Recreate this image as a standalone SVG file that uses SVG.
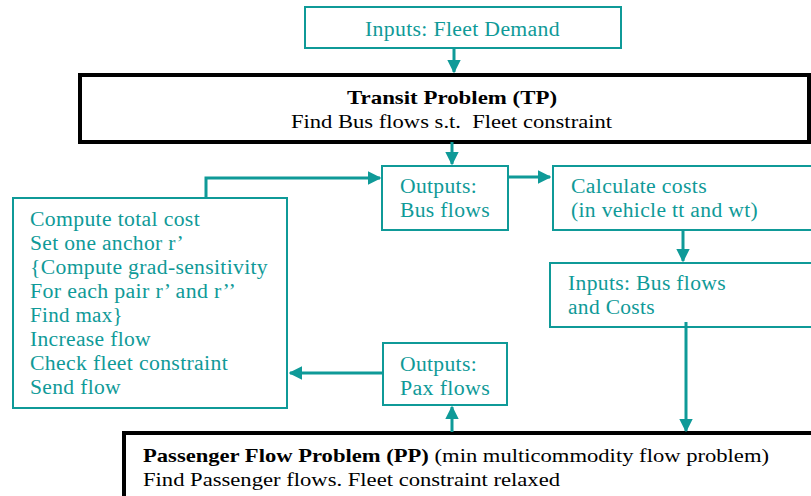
<svg xmlns="http://www.w3.org/2000/svg" width="811" height="496" viewBox="0 0 811 496">
<style>
.box{fill:#fff;stroke:#0f9a98;stroke-width:2}
.big{fill:#fff;stroke:#000;stroke-width:4}
.t{font-family:"Liberation Serif","Times New Roman",serif;font-size:20px;fill:#0f9a98;letter-spacing:0.3px}
.k{font-family:"Liberation Serif","Times New Roman",serif;font-size:19px;fill:#000}
.b{font-weight:bold}
.c{fill:none;stroke:#0f9a98;stroke-width:3}
</style>
<defs>
<marker id="ah" viewBox="0 0 10 10" refX="9" refY="5" markerWidth="4.5" markerHeight="4.5" orient="auto" markerUnits="strokeWidth">
<path d="M0,0 L10,5 L0,10 Z" fill="#0f9a98"/>
</marker>
</defs>
<g id="inputs-fleet">
<rect class="box" x="305" y="7" width="316" height="41"/>
<text class="t" x="365" y="36" textLength="195" lengthAdjust="spacingAndGlyphs">Inputs: Fleet Demand</text>
</g>
<g id="tp">
<rect class="big" x="80" y="75" width="729" height="67"/>
<text class="k b" x="347" y="104" textLength="210" lengthAdjust="spacingAndGlyphs">Transit Problem (TP)</text>
<text class="k" x="291" y="128" textLength="321" lengthAdjust="spacingAndGlyphs" xml:space="preserve">Find Bus flows s.t.  Fleet constraint</text>
</g>
<g id="out-bus">
<rect class="box" x="382" y="166" width="126" height="64"/>
<text class="t" x="400" y="193" textLength="77" lengthAdjust="spacingAndGlyphs">Outputs:</text>
<text class="t" x="400" y="217" textLength="90" lengthAdjust="spacingAndGlyphs">Bus flows</text>
</g>
<g id="calc">
<rect class="box" x="553" y="166" width="262" height="64"/>
<text class="t" x="571" y="193" textLength="136" lengthAdjust="spacingAndGlyphs">Calculate costs</text>
<text class="t" x="571" y="217" textLength="187" lengthAdjust="spacingAndGlyphs">(in vehicle tt and wt)</text>
</g>
<g id="in-bus">
<rect class="box" x="550" y="263" width="265" height="64"/>
<text class="t" x="568" y="290" textLength="158" lengthAdjust="spacingAndGlyphs">Inputs: Bus flows</text>
<text class="t" x="568" y="314" textLength="87" lengthAdjust="spacingAndGlyphs">and Costs</text>
</g>
<g id="algo">
<rect class="box" x="13" y="198" width="274" height="210"/>
<text class="t" x="30" y="226" textLength="170" lengthAdjust="spacingAndGlyphs">Compute total cost</text>
<text class="t" x="30" y="250" textLength="154" lengthAdjust="spacingAndGlyphs">Set one anchor r’</text>
<text class="t" x="30" y="274" textLength="238" lengthAdjust="spacingAndGlyphs">{Compute grad-sensitivity</text>
<text class="t" x="30" y="298" textLength="206" lengthAdjust="spacingAndGlyphs">For each pair r’ and r’’</text>
<text class="t" x="30" y="322" textLength="93" lengthAdjust="spacingAndGlyphs">Find max}</text>
<text class="t" x="30" y="346" textLength="121" lengthAdjust="spacingAndGlyphs">Increase flow</text>
<text class="t" x="30" y="370" textLength="198" lengthAdjust="spacingAndGlyphs">Check fleet constraint</text>
<text class="t" x="30" y="394" textLength="91" lengthAdjust="spacingAndGlyphs">Send flow</text>
</g>
<g id="out-pax">
<rect class="box" x="383" y="343" width="124" height="62"/>
<text class="t" x="400" y="371" textLength="77" lengthAdjust="spacingAndGlyphs">Outputs:</text>
<text class="t" x="400" y="395" textLength="90" lengthAdjust="spacingAndGlyphs">Pax flows</text>
</g>
<g id="pp">
<rect class="big" x="124" y="433" width="700" height="80"/>
<text class="k" x="143" y="462" textLength="626" lengthAdjust="spacingAndGlyphs"><tspan class="b">Passenger Flow Problem (PP)</tspan> (min multicommodity flow problem)</text>
<text class="k" x="143" y="486" textLength="417" lengthAdjust="spacingAndGlyphs">Find Passenger flows. Fleet constraint relaxed</text>
</g>
<g id="connectors">
<line class="c" x1="454" y1="48" x2="454" y2="72" marker-end="url(#ah)"/>
<line class="c" x1="452" y1="142" x2="452" y2="164" marker-end="url(#ah)"/>
<polyline class="c" points="206,198 206,178 380,178" marker-end="url(#ah)"/>
<line class="c" x1="508" y1="177" x2="550" y2="177" marker-end="url(#ah)"/>
<line class="c" x1="683" y1="230" x2="683" y2="261" marker-end="url(#ah)"/>
<line class="c" x1="686" y1="322" x2="686" y2="431" marker-end="url(#ah)"/>
<line class="c" x1="383" y1="373" x2="290" y2="373" marker-end="url(#ah)"/>
<line class="c" x1="452" y1="432" x2="452" y2="407" marker-end="url(#ah)"/>
</g>
</svg>
